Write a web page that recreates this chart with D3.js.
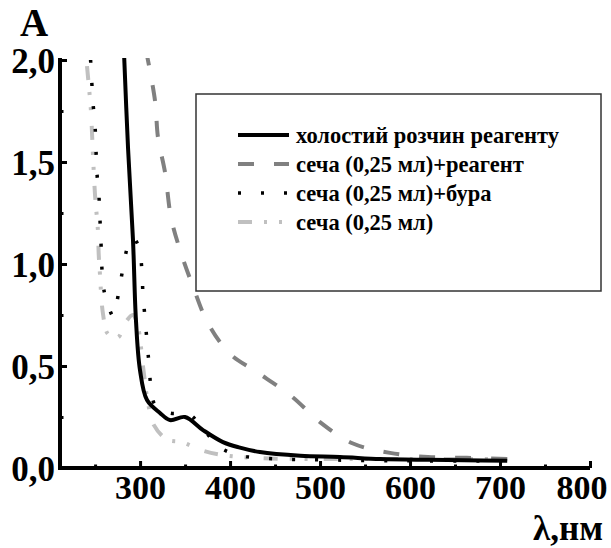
<!DOCTYPE html>
<html>
<head>
<meta charset="utf-8">
<script src="https://cdn.jsdelivr.net/npm/d3@7/dist/d3.min.js"></script>
<style>
  html, body { margin: 0; padding: 0; background: #fff; }
  svg { display: block; }
  text { font-family: "Liberation Serif", "Times New Roman", serif; font-weight: bold; fill: #000; }
</style>
</head>
<body>
<svg id="chart" width="611" height="548"></svg>
<script>
// Absorption spectra, wavelength (nm) vs absorbance A
const blankWl   = [282, 286.6, 292.1, 295.4, 299.9, 307.7, 322.1, 333.2, 349.9, 369.9, 392.1, 411, 433.2, 478, 522, 567, 620, 660, 708];
const blankA    = [2.05, 1.57, 1.12, 0.725, 0.48, 0.333, 0.27, 0.235, 0.25, 0.186, 0.127, 0.10, 0.078, 0.06, 0.054, 0.044, 0.04, 0.038, 0.036];

const reagWl    = [306.5, 316.6, 319.9, 327.7, 334.3, 344.3, 358.8, 375.4, 399.9, 429.9, 468.8, 499.9, 536.6, 577.7, 619.9, 663.2, 708];
const reagA     = [2.05, 1.80, 1.62, 1.45, 1.23, 1.07, 0.89, 0.71, 0.56, 0.47, 0.35, 0.225, 0.12, 0.074, 0.054, 0.05, 0.044];

const boraxWl   = [245, 247.7, 249.9, 251, 252, 254.3, 255.4, 256.6, 257.5, 259.9, 266.6, 270, 276.6, 281, 286.6, 292, 298.8, 302, 303.2, 305.4, 307.7, 309.9, 312, 316.6, 333, 354, 371, 389, 413, 450, 500, 600, 708];
const boraxA    = [2.0, 1.79, 1.68, 1.56, 1.45, 1.33, 1.22, 1.10, 0.985, 0.87, 0.77, 0.745, 0.87, 0.98, 1.09, 1.13, 1.08, 0.97, 0.85, 0.74, 0.62, 0.51, 0.40, 0.31, 0.27, 0.265, 0.186, 0.10, 0.06, 0.045, 0.04, 0.035, 0.035];

const sampleWl  = [241, 245.4, 246.6, 247.7, 249.9, 253.2, 254, 255.4, 258.8, 264.3, 275.4, 283.2, 292, 297.7, 303.2, 308.8, 315.4, 329.9, 346.6, 367.7, 391, 428.8, 500, 600, 708];
const sampleA   = [1.97, 1.75, 1.64, 1.53, 1.34, 1.16, 1.05, 0.95, 0.755, 0.657, 0.64, 0.71, 0.75, 0.69, 0.50, 0.32, 0.21, 0.14, 0.127, 0.088, 0.064, 0.049, 0.044, 0.044, 0.044];

const seriesNames = ["холостий розчин реагенту", "сеча (0,25 мл)+реагент", "сеча (0,25 мл)+бура", "сеча (0,25 мл)"];

const xMajorTicks = [300, 400, 500, 600, 700, 800];
const xMinorTicks = [250, 350, 450, 550, 650, 750];
const yMajorTicks = [0, 0.5, 1.0, 1.5, 2.0];
const yMinorTicks = [0.25, 0.75, 1.25, 1.75];

const svg = d3.select("#chart");

const x = d3.scaleLinear().domain([211, 800]).range([60, 590]);
const y = d3.scaleLinear().domain([0, 2]).range([468, 60]);

const fmtY = v => d3.format(".1f")(v).replace(".", ",");

// clip region for the plotted curves
svg.append("defs").append("clipPath").attr("id", "plotClip")
  .append("rect").attr("x", 60).attr("y", 58).attr("width", 530).attr("height", 410);

const styles = [
  { color: "#000000", width: 4,   dash: null },
  { color: "#808080", width: 4,   dash: "16,20" },
  { color: "#000000", width: 3.5, dash: "3,20" },
  { color: "#c0c0c0", width: 4,   dash: "14,12,3,12,3,16" }
];

const series = [
  { wl: blankWl,  a: blankA },
  { wl: reagWl,   a: reagA },
  { wl: boraxWl,  a: boraxA },
  { wl: sampleWl, a: sampleA }
];

const line = d3.line()
  .x(d => x(d[0]))
  .y(d => y(d[1]))
  .curve(d3.curveCatmullRom.alpha(0.5));

const curves = svg.append("g").attr("clip-path", "url(#plotClip)");
// draw back to front so the solid curve stays on top
[3, 1, 2, 0].forEach(i => {
  const s = series[i];
  const pts = s.wl.map((w, k) => [w, s.a[k]]);
  const st = styles[i];
  curves.append("path")
    .attr("d", line(pts))
    .attr("fill", "none")
    .attr("stroke", st.color)
    .attr("stroke-width", st.width)
    .attr("stroke-dasharray", st.dash)
    .attr("stroke-linejoin", "round");
});

// X axis
const xAxis = svg.append("g").attr("transform", "translate(0,468)");
xAxis.call(d3.axisBottom(x).tickValues(xMajorTicks).tickSize(-7).tickSizeOuter(0).tickPadding(7).tickFormat(d3.format("d")));
xAxis.append("g").call(d3.axisBottom(x).tickValues(xMinorTicks).tickSize(-3.5).tickSizeOuter(0).tickFormat(""))
  .select(".domain").remove();
xAxis.select(".domain").attr("stroke-width", 4).attr("d", "M58,0H590");
xAxis.selectAll(".tick line").attr("stroke-width", 3);
xAxis.selectAll(".tick text").style("font-size", "34px").attr("dy", "0.71em");
// keep the last label inside the page
xAxis.selectAll(".tick text").filter(d => d === 800)
  .attr("text-anchor", "end").attr("x", 17);

// Y axis
const yAxis = svg.append("g").attr("transform", "translate(60,0)");
yAxis.call(d3.axisLeft(y).tickValues(yMajorTicks).tickSize(-7).tickSizeOuter(0).tickPadding(5).tickFormat(fmtY));
yAxis.append("g").call(d3.axisLeft(y).tickValues(yMinorTicks).tickSize(-3.5).tickSizeOuter(0).tickFormat(""))
  .select(".domain").remove();
yAxis.select(".domain").attr("stroke-width", 4).attr("d", "M0,58V470");
yAxis.selectAll(".tick text").style("font-size", "35px").attr("dy", "0.35em");
yAxis.selectAll(".tick line").attr("stroke-width", 3);

// Axis titles
svg.append("text").attr("x", 34).attr("y", 36).attr("text-anchor", "middle")
  .style("font-size", "39px").text("A");
svg.append("text").attr("x", 603).attr("y", 540).attr("text-anchor", "end")
  .style("font-size", "35px").text("λ,нм");

// Legend
const legend = svg.append("g");
legend.append("rect").attr("x", 196).attr("y", 94).attr("width", 405).attr("height", 197)
  .attr("fill", "#fff").attr("stroke", "#333").attr("stroke-width", 1.5);
const rowY = [135, 164, 193, 222];
seriesNames.forEach((name, i) => {
  const st = styles[i];
  legend.append("line")
    .attr("x1", 238).attr("x2", 289).attr("y1", rowY[i]).attr("y2", rowY[i])
    .attr("stroke", st.color).attr("stroke-width", st.width)
    .attr("stroke-dasharray", st.dash);
  legend.append("text").attr("x", 296).attr("y", rowY[i]).attr("dy", "0.35em")
    .style("font-size", "22.5px").text(name);
});
</script>
</body>
</html>
